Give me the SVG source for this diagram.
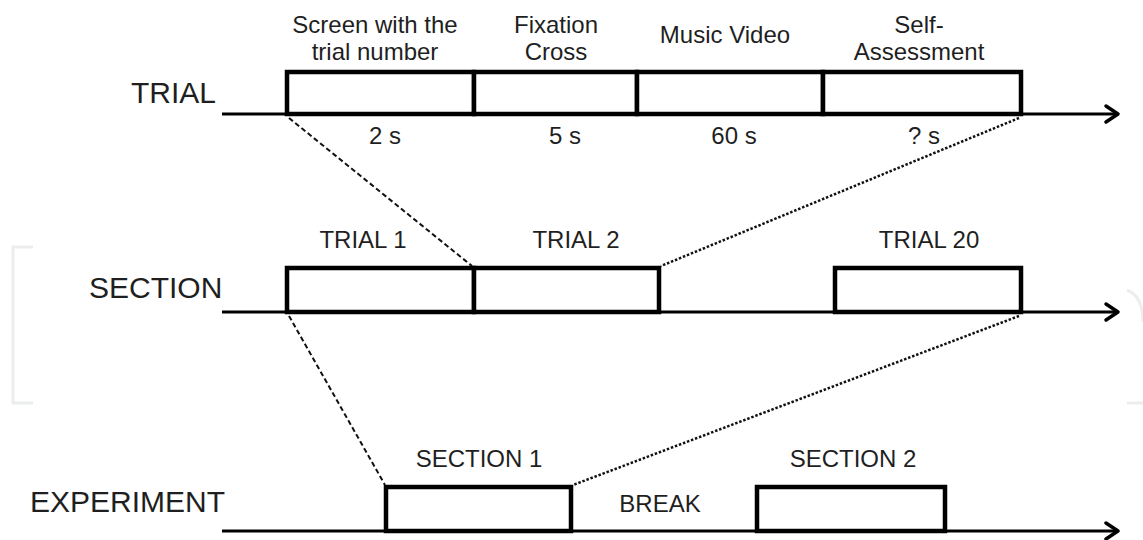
<svg xmlns="http://www.w3.org/2000/svg" width="1143" height="540" viewBox="0 0 1143 540">
<style>
text{font-family:"Liberation Sans",Arial,sans-serif;fill:#1f1f1f;text-anchor:middle}
.row{font-size:30px;text-anchor:start}
.lbl{font-size:24px}
.box{fill:#fff;stroke:#000;stroke-width:4.5}
.axis{stroke:#000;stroke-width:3;fill:none}
.head{stroke:#000;stroke-width:3.5;fill:none;stroke-linecap:round;stroke-linejoin:round}
.dash{stroke:#111;stroke-width:2;stroke-dasharray:5 3;fill:none}
.dot{stroke:#111;stroke-width:2.5;stroke-dasharray:2.5 1.8;fill:none}
.faint{stroke:#eceeee;stroke-width:3;fill:none}
</style>
<rect width="1143" height="540" fill="#fff"/>
<g id="artifacts">
<path class="faint" d="M33,247 H13 V403 H33"/>
<path class="faint" d="M1127,290 Q1143,296 1143,322"/>
<path class="faint" d="M1127,403 H1143"/>
</g>
<g id="connectors">
<line class="dash" x1="289" y1="118" x2="472" y2="266"/>
<line class="dot" x1="1019" y1="118" x2="661" y2="266"/>
<line class="dash" x1="289" y1="316" x2="385" y2="485"/>
<line class="dot" x1="1019" y1="316" x2="573" y2="485"/>
</g>
<g id="trial-row">
<text class="row" x="131" y="103">TRIAL</text>
<line class="axis" x1="222" y1="114" x2="1116" y2="114"/>
<path class="head" d="M1106,106 L1118,114 L1106,122"/>
<g id="trial-screen"><rect class="box" x="287" y="72" width="187" height="42"/>
<text class="lbl" x="375" y="33">Screen with the</text><text class="lbl" x="375" y="60">trial number</text><text class="lbl" x="385" y="144">2 s</text></g>
<g id="trial-fixation"><rect class="box" x="474" y="72" width="163" height="42"/>
<text class="lbl" x="556" y="33">Fixation</text><text class="lbl" x="556" y="60">Cross</text><text class="lbl" x="565" y="144">5 s</text></g>
<g id="trial-music"><rect class="box" x="637" y="72" width="186" height="42"/>
<text class="lbl" x="725" y="43">Music Video</text><text class="lbl" x="734" y="144">60 s</text></g>
<g id="trial-self"><rect class="box" x="823" y="72" width="198" height="42"/>
<text class="lbl" x="919" y="33">Self-</text><text class="lbl" x="919" y="60">Assessment</text><text class="lbl" x="924" y="144">? s</text></g>
</g>
<g id="section-row">
<text class="row" x="89" y="298">SECTION</text>
<line class="axis" x1="222" y1="312" x2="1116" y2="312"/>
<path class="head" d="M1106,304 L1118,312 L1106,320"/>
<g id="trial1"><rect class="box" x="287" y="268" width="187" height="44"/><text class="lbl" x="363" y="248">TRIAL 1</text></g>
<g id="trial2"><rect class="box" x="474" y="268" width="185" height="44"/><text class="lbl" x="576" y="248">TRIAL 2</text></g>
<g id="trial20"><rect class="box" x="835" y="268" width="186" height="44"/><text class="lbl" x="929" y="248">TRIAL 20</text></g>
</g>
<g id="experiment-row">
<text class="row" x="30" y="512">EXPERIMENT</text>
<line class="axis" x1="222" y1="531" x2="1116" y2="531"/>
<path class="head" d="M1106,523 L1118,531 L1106,539"/>
<g id="section1"><rect class="box" x="386" y="487" width="185" height="44"/><text class="lbl" x="479" y="467">SECTION 1</text></g>
<g id="break"><text class="lbl" x="660" y="512">BREAK</text></g>
<g id="section2"><rect class="box" x="757" y="487" width="188" height="44"/><text class="lbl" x="853" y="467">SECTION 2</text></g>
</g>
</svg>
